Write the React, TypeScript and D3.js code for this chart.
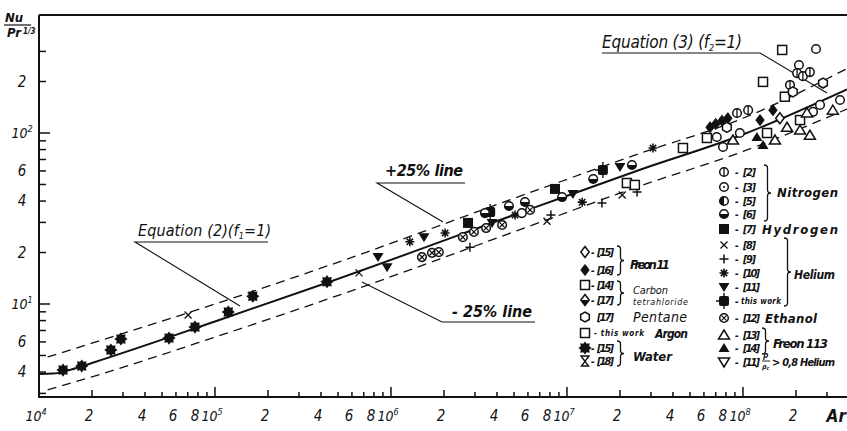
import React from "react";
import * as d3 from "d3";

// equation curve and the +/-25 % lines (Ar, Nu/Pr^1/3)
const eqAr = [1e4, 1.2e4, 1.5e4, 2e4, 1e5, 4.5e5, 7e6, 2.6e7, 1e8, 3.9e8];
const eqNu = [3.9, 3.92, 4.12, 4.52, 7.9, 13.5, 37.6, 61, 98, 180];
const upAr = [1.12e4, 2e4, 1e5, 4.5e5, 7e6, 2.6e7, 1e8, 3.9e8];
const upNu = [4.9, 5.9, 10, 16.9, 47, 76, 122, 238];
const loAr = [1.12e4, 2e4, 1e5, 4.5e5, 7e6, 2.6e7, 1e8, 3.9e8];
const loNu = [3.15, 3.75, 6.4, 10.8, 30, 49, 78, 138];

// measured points
const water15 = [[1.37e4, 4.11], [1.75e4, 4.34], [2.56e4, 5.38], [2.92e4, 6.24], [5.48e4, 6.32], [7.7e4, 7.33], [1.19e5, 8.98], [1.64e5, 11.1], [4.33e5, 13.5]];
const helium8 = [[7.03e4, 8.62], [6.58e5, 15.2], [7.7e6, 30.5], [2.06e7, 43.4]];
const helium9 = [[2.81e6, 21.5], [8.1e6, 33.1], [1.58e7, 39.0], [2.5e7, 45.2]];
const helium10 = [[1.28e6, 23.1], [2.03e6, 26.0], [5.07e6, 33.1], [1.22e7, 39.4], [3.08e7, 81.7]];
const helium11 = [[8.44e5, 18.8], [9.5e5, 16.4], [1.54e6, 24.6], [3.75e6, 29.8], [1.08e7, 44.0], [2.0e7, 63.2]];
const heliumOwn = [[3.66e6, 34.5], [1.6e7, 60.8]];
const hydrogen7 = [[2.74e6, 29.8], [8.55e6, 47.1]];
const ethanol12 = [[1.5e6, 18.8], [1.71e6, 19.9], [1.87e6, 20.1], [2.56e6, 24.6], [2.96e6, 26.4], [3.47e6, 27.8], [4.28e6, 29.0], [6.17e6, 35.5]];
const nitrogen6 = [[3.42e6, 34.0], [4.68e6, 37.4], [5.77e6, 39.5], [9.38e6, 42.2], [1.41e7, 53.8], [2.34e7, 65.0]];
const nitrogen3 = [[5.54e6, 34.0], [7.1e7, 94.8], [7.7e7, 82.8], [9.6e7, 100], [2.08e8, 250], [2.5e8, 133], [2.6e8, 310], [2.74e8, 146], [3.56e8, 156]];
const nitrogen2 = [[9.25e7, 131], [1.07e8, 136], [1.85e8, 191], [2.03e8, 224], [2.19e8, 215], [2.4e8, 227]];
const argonOwn = [[2.19e7, 51], [2.43e7, 49.7], [4.56e7, 81.7], [6.24e7, 93.5], [1.3e8, 199], [1.67e8, 306], [1.73e8, 163]];
const carbon14 = [[1.37e8, 100], [2.11e8, 119]];
const freon16 = [[6.5e7, 108], [7.0e7, 113], [7.6e7, 118], [8.2e7, 122], [1.25e8, 119], [1.48e8, 136]];
const freon15 = [[1.62e8, 122]];
const freon13 = [[8.77e7, 91], [1.52e8, 91], [1.78e8, 108], [2.11e8, 104], [2.31e8, 131], [2.4e8, 97], [3.24e8, 136]];
const freon14 = [[1.2e8, 94.8], [1.3e8, 85]];
const pentane17 = [[8.1e7, 108], [1.92e8, 174], [2.85e8, 196]];

// tick labels
const xLabelTicks = [1e4, 2e4, 4e4, 6e4, 8e4, 1e5, 2e5, 4e5, 6e5, 8e5, 1e6, 2e6, 4e6, 6e6, 8e6, 1e7, 2e7, 4e7, 6e7, 8e7, 1e8, 2e8];
const yLabelTicks = [4, 6, 10, 20, 40, 60, 100, 200];

const series = [
  { data: water15, kind: "blob" },
  { data: helium8, kind: "cross" },
  { data: helium9, kind: "plus" },
  { data: helium10, kind: "aster" },
  { data: helium11, kind: "triDown" },
  { data: heliumOwn, kind: "own" },
  { data: hydrogen7, kind: "sqFill" },
  { data: ethanol12, kind: "otimes" },
  { data: nitrogen6, kind: "halfBottom" },
  { data: nitrogen3, kind: "circle" },
  { data: nitrogen2, kind: "circleBar" },
  { data: argonOwn, kind: "square" },
  { data: carbon14, kind: "square" },
  { data: freon16, kind: "diamondFill" },
  { data: freon15, kind: "diamond" },
  { data: freon13, kind: "triUp" },
  { data: freon14, kind: "triUpFill" },
  { data: pentane17, kind: "hex" },
];

const x = d3.scaleLog().domain([1e4, 3.9e8]).range([39, 847]);
const y = d3.scaleLog().domain([10, 100]).range([304, 133]);

const FONT = "'DejaVu Sans Condensed', 'DejaVu Sans', sans-serif";
const K = "#111";

function Marker({ kind, cx, cy }: { kind: string; cx: number; cy: number }) {
  const r = 4.3;
  const sw = 1.5;
  switch (kind) {
    case "blob": {
      const pts = d3.range(16).map((i) => {
        const a = (i * Math.PI) / 8;
        const rr = i % 2 ? 4.6 : 6.6;
        return [cx + rr * Math.cos(a), cy + rr * Math.sin(a)].join(",");
      });
      return <polygon points={pts.join(" ")} fill={K} />;
    }
    case "cross":
      return <path d={`M${cx - 3.5},${cy - 3.5}L${cx + 3.5},${cy + 3.5}M${cx - 3.5},${cy + 3.5}L${cx + 3.5},${cy - 3.5}`} stroke={K} strokeWidth={1.3} />;
    case "plus":
      return <path d={`M${cx - 4.5},${cy}L${cx + 4.5},${cy}M${cx},${cy - 4.5}L${cx},${cy + 4.5}`} stroke={K} strokeWidth={1.5} />;
    case "aster": {
      const d = d3.range(4).map((i) => {
        const a = (i * Math.PI) / 4;
        const dx = 4.5 * Math.cos(a), dy = 4.5 * Math.sin(a);
        return `M${cx - dx},${cy - dy}L${cx + dx},${cy + dy}`;
      }).join("");
      return <path d={d} stroke={K} strokeWidth={1.6} />;
    }
    case "triDown":
      return <path d={`M${cx - 5.5},${cy - 4}L${cx + 5.5},${cy - 4}L${cx},${cy + 5}Z`} fill={K} />;
    case "triDownOpen":
      return <path d={`M${cx - 5.5},${cy - 4}L${cx + 5.5},${cy - 4}L${cx},${cy + 5}Z`} fill="#fff" stroke={K} strokeWidth={sw} />;
    case "triUp":
      return <path d={`M${cx - 5.5},${cy + 4}L${cx + 5.5},${cy + 4}L${cx},${cy - 5}Z`} fill="#fff" stroke={K} strokeWidth={sw} />;
    case "triUpFill":
      return <path d={`M${cx - 5.5},${cy + 4}L${cx + 5.5},${cy + 4}L${cx},${cy - 5}Z`} fill={K} />;
    case "own":
      return (
        <g>
          <rect x={cx - 5} y={cy - 5} width={10} height={10} rx={2} fill={K} />
          <path d={`M${cx},${cy - 8}L${cx},${cy + 8}M${cx - 8},${cy}L${cx},${cy}`} stroke={K} strokeWidth={1.4} />
        </g>
      );
    case "sqFill":
      return <rect x={cx - 5} y={cy - 5} width={10} height={10} fill={K} />;
    case "square":
      return <rect x={cx - 4.5} y={cy - 4.5} width={9} height={9} fill="#fff" stroke={K} strokeWidth={sw} />;
    case "otimes":
      return (
        <g>
          <circle cx={cx} cy={cy} r={r} fill="#fff" stroke={K} strokeWidth={sw} />
          <path d={`M${cx - 2.6},${cy - 2.6}L${cx + 2.6},${cy + 2.6}M${cx - 2.6},${cy + 2.6}L${cx + 2.6},${cy - 2.6}`} stroke={K} strokeWidth={1.2} />
        </g>
      );
    case "halfBottom":
      return (
        <g>
          <circle cx={cx} cy={cy} r={r} fill="#fff" stroke={K} strokeWidth={sw} />
          <path d={`M${cx - r},${cy}A${r},${r} 0 0 0 ${cx + r},${cy}Z`} fill={K} />
        </g>
      );
    case "halfLeft":
      return (
        <g>
          <circle cx={cx} cy={cy} r={r} fill="#fff" stroke={K} strokeWidth={sw} />
          <path d={`M${cx},${cy - r}A${r},${r} 0 0 0 ${cx},${cy + r}Z`} fill={K} />
        </g>
      );
    case "circle":
      return <circle cx={cx} cy={cy} r={r} fill="#fff" stroke={K} strokeWidth={sw} />;
    case "circleDot":
      return (
        <g>
          <circle cx={cx} cy={cy} r={r} fill="#fff" stroke={K} strokeWidth={sw} />
          <circle cx={cx} cy={cy} r={1} fill={K} />
        </g>
      );
    case "circleBar":
      return (
        <g>
          <circle cx={cx} cy={cy} r={r} fill="#fff" stroke={K} strokeWidth={sw} />
          <path d={`M${cx},${cy - r}L${cx},${cy + r}`} stroke={K} strokeWidth={1.3} />
        </g>
      );
    case "diamond":
      return <path d={`M${cx},${cy - 5.5}L${cx + 4.2},${cy}L${cx},${cy + 5.5}L${cx - 4.2},${cy}Z`} fill="#fff" stroke={K} strokeWidth={sw} />;
    case "diamondFill":
      return <path d={`M${cx},${cy - 5.5}L${cx + 4.2},${cy}L${cx},${cy + 5.5}L${cx - 4.2},${cy}Z`} fill={K} stroke={K} strokeWidth={1} />;
    case "diamondHalf":
      return (
        <g>
          <path d={`M${cx},${cy - 5.5}L${cx + 4.2},${cy}L${cx},${cy + 5.5}L${cx - 4.2},${cy}Z`} fill="#fff" stroke={K} strokeWidth={sw} />
          <path d={`M${cx - 4.2},${cy}L${cx + 4.2},${cy}L${cx},${cy + 5.5}Z`} fill={K} />
        </g>
      );
    case "hex": {
      const pts = d3.range(6).map((i) => {
        const a = (i * Math.PI) / 3 + Math.PI / 6;
        return [cx + 5 * Math.cos(a), cy + 5 * Math.sin(a)].join(",");
      });
      return <polygon points={pts.join(" ")} fill="#fff" stroke={K} strokeWidth={sw} />;
    }
    case "hourglass":
      return (
        <path d={`M${cx - 4},${cy - 5}L${cx + 4},${cy - 5}L${cx - 3.5},${cy + 5}L${cx + 3.5},${cy + 5}Z`} fill="#fff" stroke={K} strokeWidth={1.4} />
      );
    default:
      return null;
  }
}

function brace(bx: number, y1: number, y2: number, w = 3.5) {
  const ym = (y1 + y2) / 2;
  const r = 3;
  return `M${bx},${y1}Q${bx + w},${y1} ${bx + w},${y1 + r}L${bx + w},${ym - r}Q${bx + w},${ym} ${bx + 2 * w},${ym}Q${bx + w},${ym} ${bx + w},${ym + r}L${bx + w},${y2 - r}Q${bx + w},${y2} ${bx},${y2}`;
}

function tickLabel(v: number, px: number, py: number) {
  const e = Math.round(Math.log10(v));
  const isPow = Math.abs(v - Math.pow(10, e)) < 1e-9 * v;
  if (isPow) {
    return (
      <text x={px} y={py} textAnchor="middle" fontSize={14} fontStyle="italic" fontFamily={FONT} fill={K}>
        10<tspan dy={-6} fontSize={9}>{e}</tspan>
      </text>
    );
  }
  return (
    <text x={px} y={py} textAnchor="middle" fontSize={15} fontStyle="italic" fontFamily={FONT} fill={K}>
      {String(Math.round(v / Math.pow(10, Math.floor(Math.log10(v)))))}
    </text>
  );
}

const legendRight = [
  { kind: "circleBar", label: "[2]", y: 172 },
  { kind: "circleDot", label: "[3]", y: 187 },
  { kind: "halfLeft", label: "[5]", y: 201 },
  { kind: "halfBottom", label: "[6]", y: 214 },
  { kind: "sqFill", label: "[7]", y: 229 },
  { kind: "cross", label: "[8]", y: 245 },
  { kind: "plus", label: "[9]", y: 259 },
  { kind: "aster", label: "[10]", y: 273 },
  { kind: "triDown", label: "[11]", y: 287 },
  { kind: "own", label: "", y: 301 },
  { kind: "otimes", label: "[12]", y: 318 },
  { kind: "triUp", label: "[13]", y: 335 },
  { kind: "triUpFill", label: "[14]", y: 348 },
  { kind: "triDownOpen", label: "[11]", y: 362 },
];

const legendLeft = [
  { kind: "diamond", label: "[15]", y: 252, dash: true },
  { kind: "diamondFill", label: "[16]", y: 270, dash: true },
  { kind: "square", label: "[14]", y: 285, dash: true },
  { kind: "diamondHalf", label: "[17]", y: 300, dash: true },
  { kind: "hex", label: "[17]", y: 317, dash: false },
  { kind: "square", label: "", y: 333, dash: false },
  { kind: "blob", label: "[15]", y: 348, dash: true },
  { kind: "hourglass", label: "[18]", y: 361, dash: true },
];

export default function App() {
  const line = d3
    .line<number[]>()
    .x((d) => x(d[0]))
    .y((d) => y(d[1]))
    .curve(d3.curveMonotoneX);
  const eq = eqAr.map((a, i) => [a, eqNu[i]]);
  const up = upAr.map((a, i) => [a, upNu[i]]);
  const lo = loAr.map((a, i) => [a, loNu[i]]);

  const xTicks = x.ticks().filter((v) => x(v) <= 846);
  const yAll = d3.scaleLog().domain([2.9, 480]).ticks().filter((v) => v >= 3 && v <= 300);

  const bold = { fontFamily: FONT, fontStyle: "italic", fontWeight: 700, fill: K } as const;
  const lab = (s: string) => (s.length > 3 ? 17 : 13);

  return (
    <svg width={847} height={431} style={{ position: "absolute", left: 0, top: 0, background: "#fff" }}>
      {/* frame */}
      <path d="M39,15L847,15" stroke={K} strokeWidth={2} fill="none" />
      <path d="M39,15L39,397L847,397" stroke={K} strokeWidth={2} fill="none" />

      {xTicks.map((v) => {
        const m = Math.round(v / Math.pow(10, Math.floor(Math.log10(v) + 1e-9)));
        const len = m === 1 ? 10 : m === 2 ? 7 : 5;
        return <line key={"xt" + v} x1={x(v)} x2={x(v)} y1={397} y2={397 - len} stroke={K} strokeWidth={1.5} />;
      })}
      {yAll.map((v) => {
        const m = Math.round(v / Math.pow(10, Math.floor(Math.log10(v) + 1e-9)));
        const len = m === 1 ? 11 : 7;
        return <line key={"yt" + v} x1={39} x2={39 + len} y1={y(v)} y2={y(v)} stroke={K} strokeWidth={1.5} />;
      })}
      {xLabelTicks.map((v) => <g key={"xl" + v}>{tickLabel(v, x(v) - 3, 421)}</g>)}
      {yLabelTicks.map((v) => <g key={"yl" + v}>{tickLabel(v, 22, y(v) + 5)}</g>)}
      <text x={846} y={422} textAnchor="end" fontSize={17} {...bold}>Ar</text>

      {/* y title */}
      <text x={5} y={22} fontSize={13} {...bold}>Nu</text>
      <line x1={4} x2={31} y1={25} y2={25} stroke={K} strokeWidth={1.2} />
      <text x={7} y={37} fontSize={13} {...bold}>Pr<tspan dx={2} dy={-3} fontSize={8}>1/3</tspan></text>

      {/* lines */}
      <path d={line(up) || ""} fill="none" stroke={K} strokeWidth={1.3} strokeDasharray="9 6" />
      <path d={line(lo) || ""} fill="none" stroke={K} strokeWidth={1.3} strokeDasharray="9 6" />
      <path d={line(eq) || ""} fill="none" stroke={K} strokeWidth={2} />

      {/* annotations */}
      <text x={602} y={48} fontSize={17} textLength={140} {...bold} fontWeight={400}>
        Equation (3) (f<tspan dy={3} fontSize={9}>2</tspan><tspan dy={-3}>=1)</tspan>
      </text>
      <path d="M602,53L760,53L827,93" fill="none" stroke={K} strokeWidth={1.1} />
      <text x={138} y={236} fontSize={16} textLength={133} {...bold} fontWeight={400}>
        Equation (2)(f<tspan dy={3} fontSize={9}>1</tspan><tspan dy={-3}>=1)</tspan>
      </text>
      <path d="M268,242L135,242L240,306" fill="none" stroke={K} strokeWidth={1.1} />
      <text x={385} y={176} fontSize={16} textLength={78} {...bold}>+25% line</text>
      <path d="M465,183L377,183L443,222" fill="none" stroke={K} strokeWidth={1.1} />
      <text x={452} y={317} fontSize={16} textLength={80} {...bold}>- 25% line</text>
      <path d="M362,282L442,322L535,322" fill="none" stroke={K} strokeWidth={1.1} />

      {/* data */}
      {series.map((s, si) =>
        s.data.map((d, i) => <Marker key={si + "-" + i} kind={s.kind} cx={x(d[0])} cy={y(d[1])} />)
      )}

      {/* legend right */}
      {legendRight.map((l, i) => (
        <g key={"lr" + i}>
          <Marker kind={l.kind} cx={724} cy={l.y} />
          <text x={735} y={l.y + 4} fontSize={10} {...bold}>-</text>
          {l.label ? (
            <text x={743} y={l.y + 4} fontSize={11} textLength={lab(l.label)} {...bold}>{l.label}</text>
          ) : (
            <text x={741} y={l.y + 3} fontSize={8} textLength={40} {...bold}>this work</text>
          )}
        </g>
      ))}
      <path d={brace(764, 165, 221)} fill="none" stroke={K} strokeWidth={1.3} />
      <text x={777} y={197} fontSize={13} textLength={61} {...bold}>Nitrogen</text>
      <text x={762} y={234} fontSize={13} textLength={76} {...bold}>Hydrogen</text>
      <path d={brace(784, 238, 306)} fill="none" stroke={K} strokeWidth={1.3} />
      <text x={794} y={279} fontSize={12} textLength={41} {...bold}>Helium</text>
      <text x={765} y={323} fontSize={13} textLength={52} {...bold}>Ethanol</text>
      <path d={brace(762, 328, 354)} fill="none" stroke={K} strokeWidth={1.3} />
      <text x={773} y={348} fontSize={13} textLength={55} {...bold}>Freon 113</text>
      <text x={763} y={358} fontSize={8} {...bold}>ρ</text>
      <line x1={762} x2={770} y1={361} y2={361} stroke={K} strokeWidth={0.9} />
      <text x={762} y={369} fontSize={7} {...bold}>ρ<tspan dy={1} fontSize={5}>c</tspan></text>
      <text x={772} y={366} fontSize={11} textLength={63} {...bold}>&gt; 0,8 Helium</text>

      {/* legend left */}
      {legendLeft.map((l, i) => (
        <g key={"ll" + i}>
          <Marker kind={l.kind} cx={585} cy={l.y} />
          {l.dash && <text x={591} y={l.y + 4} fontSize={10} {...bold}>-</text>}
          {l.label ? (
            <text x={597} y={l.y + 4} fontSize={11} textLength={lab(l.label)} {...bold}>{l.label}</text>
          ) : (
            <text x={594} y={l.y + 3} fontSize={8} textLength={50} {...bold}>- this work</text>
          )}
        </g>
      ))}
      <path d={brace(617, 246, 275)} fill="none" stroke={K} strokeWidth={1.3} />
      <text x={630} y={269} fontSize={13} textLength={40} {...bold}>Freon 11</text>
      <path d={brace(617, 281, 305)} fill="none" stroke={K} strokeWidth={1.3} />
      <text x={633} y={294} fontSize={11} textLength={35} {...bold} fontWeight={400}>Carbon</text>
      <text x={633} y={305} fontSize={9} textLength={55} {...bold} fontWeight={400}>tetrahloride</text>
      <text x={633} y={322} fontSize={14} textLength={54} {...bold} fontWeight={400}>Pentane</text>
      <text x={655} y={338} fontSize={12} textLength={33} {...bold}>Argon</text>
      <path d={brace(617, 341, 366)} fill="none" stroke={K} strokeWidth={1.3} />
      <text x={633} y={361} fontSize={13} textLength={39} {...bold}>Water</text>
    </svg>
  );
}
